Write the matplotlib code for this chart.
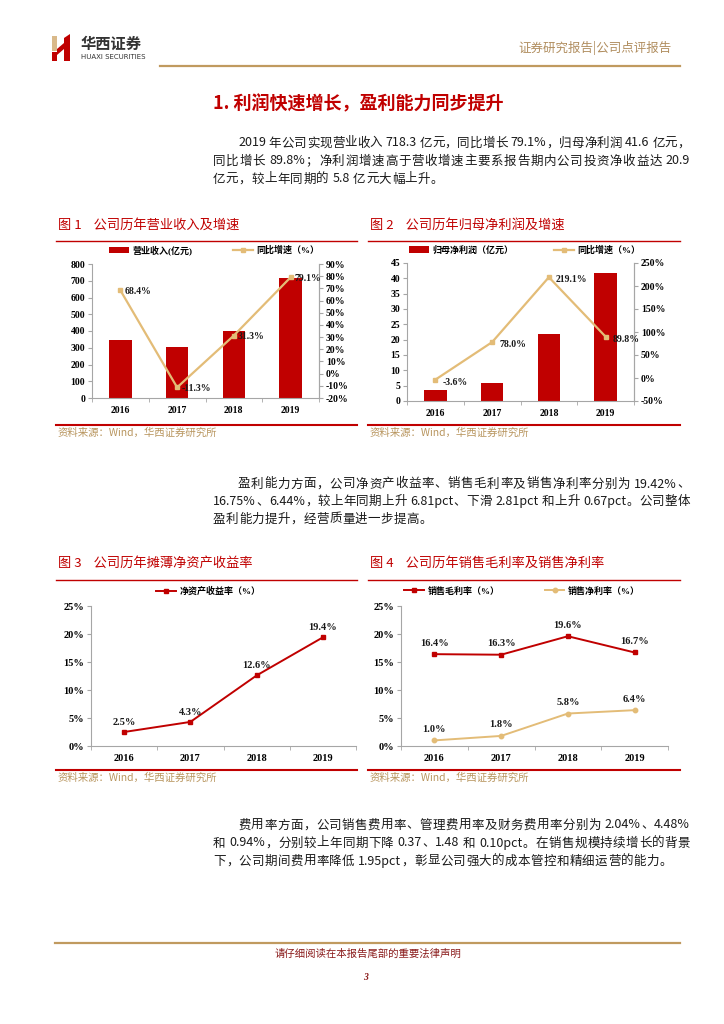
import re

import matplotlib
matplotlib.use("Agg")
import matplotlib.pyplot as plt
import numpy as np
from matplotlib.lines import Line2D
from matplotlib.patches import Polygon

W, H = 724, 1024
RED = "#c00000"
TAN = "#e3bc77"
GOLD = "#c09a5f"
SRC = "#b8955e"
AXIS = "#a6a6a6"
CJK = ["Noto Sans CJK SC", "DejaVu Sans"]
NUM = ["Liberation Serif", "Noto Sans CJK SC"]

years = ["2016", "2017", "2018", "2019"]
revenue = [345, 303, 401, 718.3]
revenue_yoy = [68.4, -11.3, 31.3, 79.1]
profit = [3.5, 6.0, 21.8, 41.6]
profit_yoy = [-3.6, 78.0, 219.1, 89.8]
roe = [2.5, 4.3, 12.6, 19.4]
gross_margin = [16.4, 16.3, 19.6, 16.7]
net_margin = [1.0, 1.8, 5.8, 6.4]

para1 = [
    "2019 年公司实现营业收入 718.3 亿元，同比增长 79.1%，归母净利润 41.6 亿元，",
    "同比增长 89.8%；净利润增速高于营收增速主要系报告期内公司投资净收益达 20.9",
    "亿元，较上年同期的 5.8 亿元大幅上升。",
]
para2 = [
    "盈利能力方面，公司净资产收益率、销售毛利率及销售净利率分别为 19.42%、",
    "16.75%、6.44%，较上年同期上升 6.81pct、下滑 2.81pct 和上升 0.67pct。公司整体",
    "盈利能力提升，经营质量进一步提高。",
]
para3 = [
    "费用率方面，公司销售费用率、管理费用率及财务费用率分别为 2.04%、4.48%",
    "和 0.94%，分别较上年同期下降 0.37、1.48 和 0.10pct。在销售规模持续增长的背景",
    "下，公司期间费用率降低 1.95pct，彰显公司强大的成本管控和精细运营的能力。",
]

fig = plt.figure(figsize=(W / 100, H / 100), dpi=100)
fig.patch.set_facecolor("white")


def rect(x0, y0, x1, y1):
    return [x0 / W, 1 - y1 / H, (x1 - x0) / W, (y1 - y0) / H]


def ftext(x, y, s, **kw):
    kw.setdefault("va", "center")
    return fig.text(x / W, 1 - y / H, s, **kw)


def hline(x0, x1, y, color, lw):
    fig.add_artist(Line2D([x0 / W, x1 / W], [1 - y / H] * 2, color=color, lw=lw))


def justify(line, x0, x1, y, size=9, full=True):
    tokens = re.findall(r"[0-9A-Za-z.%]+| |.", line)
    r = fig.canvas.get_renderer()
    arts, widths = [], []
    for t in tokens:
        if t == " ":
            arts.append(None)
            widths.append(size * 0.3)
            continue
        a = ftext(0, y, t, fontsize=size, family=CJK, color="#1a1a1a")
        arts.append(a)
        widths.append(a.get_window_extent(r).width)
    gap = (x1 - x0 - sum(widths)) / (len(tokens) - 1) if full else 0.4
    x = x0
    for a, w in zip(arts, widths):
        if a is not None:
            a.set_x(x / W)
        x += w + gap


def paragraph(lines, y0, step):
    for i, line in enumerate(lines):
        x0 = 238 if i == 0 else 213
        justify(line, x0, 690, y0 + i * step, full=i < len(lines) - 1)


# header
logo = [
    ([(52, 36), (57, 36), (57, 51), (52, 51)], "#d9b98a"),
    ([(52, 52), (57, 52), (57, 61), (52, 61)], RED),
    ([(57, 49), (64, 43), (64, 49), (57, 55)], RED),
    ([(64, 38), (70, 34), (70, 61), (64, 61)], RED),
]
for pts, c in logo:
    fig.add_artist(Polygon([(px / W, 1 - py / H) for px, py in pts], closed=True,
                           facecolor=c, edgecolor="none", transform=fig.transFigure))
ftext(81, 44, "华西证券", fontsize=11, family=CJK, weight="bold", color="#333333")
ftext(81, 57, "HUAXI SECURITIES", fontsize=5, family=["DejaVu Sans"], color="#333333")
ftext(672, 48, "证券研究报告|公司点评报告", fontsize=9, family=CJK, color="#b08d5e", ha="right")
hline(160, 680, 66, GOLD, 1.6)

ftext(213, 104, "1. 利润快速增长，盈利能力同步提升", fontsize=13, family=CJK,
      weight="bold", color=RED)
paragraph(para1, 143, 18)
paragraph(para2, 484, 17.5)
paragraph(para3, 825, 18)

# footer
hline(55, 680, 943, GOLD, 1.6)
ftext(368, 954, "请仔细阅读在本报告尾部的重要法律声明", fontsize=7.5, family=CJK,
      color="#8b1c1c", ha="center")
ftext(366, 977, "3", fontsize=7, family=["Liberation Serif"], style="italic",
      weight="bold", color="#8b1c1c", ha="center")


def frame(x0, x1, ytitle, yrule, ysrc, title):
    ftext(x0 + 2, ytitle, title, fontsize=9.5, family=CJK, color=RED)
    hline(x0, x1, yrule, RED, 1.0)
    hline(x0, x1, ysrc - 8, RED, 1.5)
    ftext(x0 + 2, ysrc, "资料来源：Wind，华西证券研究所", fontsize=7.5, family=CJK, color=SRC)


frame(56, 357, 225, 241, 433, "图 1    公司历年营业收入及增速")
frame(368, 680, 225, 241, 433, "图 2    公司历年归母净利润及增速")
frame(56, 357, 563, 580, 778, "图 3    公司历年摊薄净资产收益率")
frame(368, 680, 563, 580, 778, "图 4    公司历年销售毛利率及销售净利率")


def style_axes(ax, right=False, size=7):
    ax.spines["top"].set_visible(False)
    for s in ["left", "bottom", "right"]:
        ax.spines[s].set_color(AXIS)
        ax.spines[s].set_linewidth(0.8)
    if not right:
        ax.spines["right"].set_visible(False)
    x = np.arange(len(years))
    ax.set_xlim(-0.5, len(years) - 0.5)
    ax.set_xticks(x)
    ax.set_xticklabels(years, fontsize=size, family=NUM, weight="bold")
    ax.set_xticks(np.arange(-0.5, len(years), 1), minor=True)
    ax.tick_params(axis="x", which="major", length=0, pad=6)
    ax.tick_params(axis="x", which="minor", length=3, color=AXIS, direction="out")
    ax.tick_params(axis="y", length=3, color=AXIS, labelsize=size, pad=2)
    for lab in ax.get_yticklabels():
        lab.set_family(NUM)
        lab.set_weight("bold")


def pct_labels(ax, ticks, size=7):
    ax.set_yticks(ticks)
    ax.set_yticklabels([f"{t}%" for t in ticks], family=NUM, weight="bold", fontsize=size)


def legend(ax, handles, cx, cy, spacing):
    ax.legend(handles=handles, loc="center", bbox_to_anchor=(cx / W, 1 - cy / H),
              bbox_transform=fig.transFigure, ncol=len(handles), frameon=False,
              prop={"family": NUM, "weight": "bold", "size": 6.5}, handlelength=2.2,
              columnspacing=spacing, handletextpad=0.4)


x = np.arange(len(years))
lbl = dict(fontsize=7, family=NUM, weight="bold", color="#1a1a1a")
lbl_big = dict(lbl, fontsize=7.5)

# chart 1
ax1 = fig.add_axes(rect(92, 264, 319, 398))
bars1 = ax1.bar(x, revenue, width=0.4, color=RED, label="营业收入(亿元)")
ax1.set_ylim(0, 800)
ax1.set_yticks(range(0, 801, 100))
style_axes(ax1, right=True)
ax1r = ax1.twinx()
ax1r.set_ylim(-20, 90)
line1, = ax1r.plot(x, revenue_yoy, color=TAN, lw=1.6, marker="s", ms=3.5, label="同比增速（%）")
pct_labels(ax1r, list(range(-20, 91, 10)))
ax1r.spines["right"].set_color(AXIS)
ax1r.spines["top"].set_visible(False)
ax1r.spines["left"].set_visible(False)
ax1r.spines["bottom"].set_visible(False)
ax1r.tick_params(axis="y", length=3, color=AXIS, pad=2)
for xi, v in zip(x, revenue_yoy):
    ax1r.annotate(f"{v}%", (xi, v), xytext=(3, -1), textcoords="offset points",
                  ha="left", va="center", **lbl)
legend(ax1, [bars1, line1], 214, 250, 4.5)

# chart 2
ax2 = fig.add_axes(rect(407, 263, 634, 401))
bars2 = ax2.bar(x, profit, width=0.4, color=RED, label="归母净利润（亿元）")
ax2.set_ylim(0, 45)
ax2.set_yticks(range(0, 46, 5))
style_axes(ax2, right=True)
ax2r = ax2.twinx()
ax2r.set_ylim(-50, 250)
line2, = ax2r.plot(x, profit_yoy, color=TAN, lw=1.6, marker="s", ms=3.5, label="同比增速（%）")
pct_labels(ax2r, list(range(-50, 251, 50)))
ax2r.spines["right"].set_color(AXIS)
ax2r.spines["top"].set_visible(False)
ax2r.spines["left"].set_visible(False)
ax2r.spines["bottom"].set_visible(False)
ax2r.tick_params(axis="y", length=3, color=AXIS, pad=2)
for xi, v in zip(x, profit_yoy):
    ax2r.annotate(f"{v}%", (xi, v), xytext=(5, -2), textcoords="offset points",
                  ha="left", va="center", **lbl)
legend(ax2, [bars2, line2], 525, 250, 4.5)

# chart 3
ax3 = fig.add_axes(rect(91, 606, 356, 746))
line3, = ax3.plot(x, roe, color=RED, lw=1.4, marker="s", ms=3.2, label="净资产收益率（%）")
ax3.set_ylim(0, 25)
style_axes(ax3, size=7.5)
pct_labels(ax3, list(range(0, 26, 5)), size=7.5)
for xi, v in zip(x, roe):
    ax3.annotate(f"{v}%", (xi, v), xytext=(0, 7), textcoords="offset points",
                 ha="center", va="center", **lbl_big)
legend(ax3, [line3], 208, 591, 4)

# chart 4
ax4 = fig.add_axes(rect(401, 606, 668, 746))
line4a, = ax4.plot(x, gross_margin, color=RED, lw=1.4, marker="s", ms=3.2, label="销售毛利率（%）")
line4b, = ax4.plot(x, net_margin, color=TAN, lw=1.4, marker="o", ms=3.2, label="销售净利率（%）")
ax4.set_ylim(0, 25)
style_axes(ax4, size=7.5)
pct_labels(ax4, list(range(0, 26, 5)), size=7.5)
for series in (gross_margin, net_margin):
    for xi, v in zip(x, series):
        ax4.annotate(f"{v}%", (xi, v), xytext=(0, 8), textcoords="offset points",
                     ha="center", va="center", **lbl_big)
legend(ax4, [line4a, line4b], 522, 591, 5)

fig.savefig("out.png", dpi=100, facecolor="white")
